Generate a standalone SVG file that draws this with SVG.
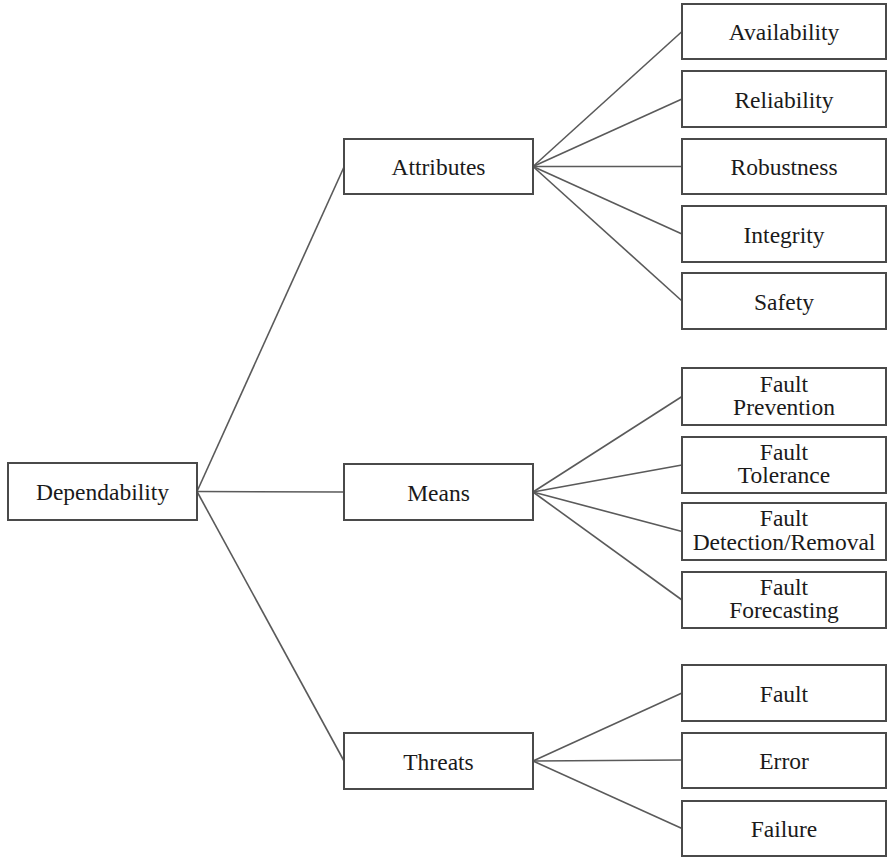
<svg xmlns="http://www.w3.org/2000/svg" width="888" height="859" viewBox="0 0 888 859">
<style>
.box{fill:#fff;stroke:#4a4a4a;stroke-width:2}
.t{font-family:'Liberation Serif','Times New Roman',Tinos,'DejaVu Serif',serif;font-size:23.5px;fill:#1a1a1a;text-anchor:middle}
.c line{stroke:#5a5a5a;stroke-width:1.6}
</style>
<rect width="888" height="859" fill="#fff"/>
<g class="c" id="connectors">
<line x1="197" y1="491.5" x2="344" y2="167"/>
<line x1="197" y1="491.5" x2="344" y2="492"/>
<line x1="197" y1="491.5" x2="344" y2="761"/>
<line x1="533" y1="166.5" x2="682" y2="31.5"/>
<line x1="533" y1="166.5" x2="682" y2="99"/>
<line x1="533" y1="166.5" x2="682" y2="166.5"/>
<line x1="533" y1="166.5" x2="682" y2="234"/>
<line x1="533" y1="166.5" x2="682" y2="301"/>
<line x1="533" y1="492" x2="682" y2="396.5"/>
<line x1="533" y1="492" x2="682" y2="465"/>
<line x1="533" y1="492" x2="682" y2="531.5"/>
<line x1="533" y1="492" x2="682" y2="600"/>
<line x1="533" y1="761" x2="682" y2="693"/>
<line x1="533" y1="761" x2="682" y2="760"/>
<line x1="533" y1="761" x2="682" y2="828.5"/>
</g>
<g id="dependability"><rect class="box" x="8" y="463" width="189" height="57"/><text class="t" x="102.5" y="500">Dependability</text></g>
<g id="attributes"><rect class="box" x="344" y="139" width="189" height="55"/><text class="t" x="438.5" y="175">Attributes</text></g>
<g id="means"><rect class="box" x="344" y="464" width="189" height="56"/><text class="t" x="438.5" y="500.5">Means</text></g>
<g id="threats"><rect class="box" x="344" y="733" width="189" height="56"/><text class="t" x="438.5" y="769.5">Threats</text></g>
<g id="availability"><rect class="box" x="682" y="4" width="204" height="55"/><text class="t" x="784" y="40">Availability</text></g>
<g id="reliability"><rect class="box" x="682" y="71" width="204" height="56"/><text class="t" x="784" y="107.5">Reliability</text></g>
<g id="robustness"><rect class="box" x="682" y="139" width="204" height="55"/><text class="t" x="784" y="175">Robustness</text></g>
<g id="integrity"><rect class="box" x="682" y="206" width="204" height="56"/><text class="t" x="784" y="242.5">Integrity</text></g>
<g id="safety"><rect class="box" x="682" y="273" width="204" height="56"/><text class="t" x="784" y="309.5">Safety</text></g>
<g id="fault-prevention"><rect class="box" x="682" y="368" width="204" height="57"/><text class="t" x="784" y="391.5">Fault</text><text class="t" x="784" y="415">Prevention</text></g>
<g id="fault-tolerance"><rect class="box" x="682" y="437" width="204" height="56"/><text class="t" x="784" y="459.5">Fault</text><text class="t" x="784" y="483">Tolerance</text></g>
<g id="fault-detection"><rect class="box" x="682" y="503" width="204" height="57"/><text class="t" x="784" y="526">Fault</text><text class="t" x="784" y="549.5">Detection/Removal</text></g>
<g id="fault-forecasting"><rect class="box" x="682" y="572" width="204" height="56"/><text class="t" x="784" y="594.5">Fault</text><text class="t" x="784" y="618">Forecasting</text></g>
<g id="fault"><rect class="box" x="682" y="665" width="204" height="56"/><text class="t" x="784" y="701.5">Fault</text></g>
<g id="error"><rect class="box" x="682" y="733" width="204" height="55"/><text class="t" x="784" y="769">Error</text></g>
<g id="failure"><rect class="box" x="682" y="801" width="204" height="55"/><text class="t" x="784" y="837">Failure</text></g>
</svg>
